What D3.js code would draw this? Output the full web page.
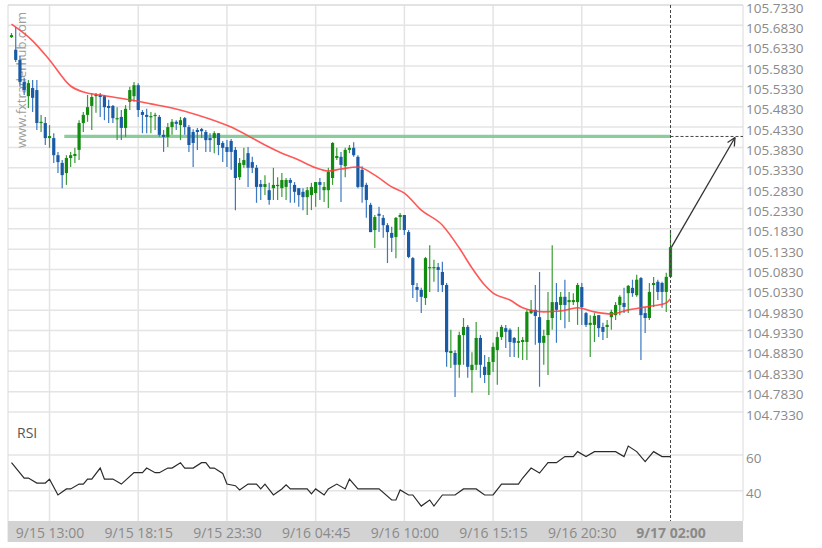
<!DOCTYPE html>
<html><head><meta charset="utf-8">
<script src="https://cdn.jsdelivr.net/npm/d3@7"></script>
<style>body{margin:0;background:#fff}svg{display:block}</style>
</head><body>
<svg id="c" width="822" height="548"></svg>
<script>
const opens=[105.654,105.623,105.598,105.544,105.509,105.529,105.524,105.443,105.443,105.406,105.406,105.364,105.345,105.320,105.357,105.362,105.377,105.443,105.463,105.485,105.509,105.512,105.509,105.485,105.485,105.453,105.458,105.431,105.495,105.509,105.536,105.470,105.463,105.458,105.460,105.458,105.414,105.409,105.433,105.446,105.438,105.455,105.433,105.421,105.426,105.428,105.421,105.406,105.406,105.418,105.394,105.384,105.399,105.377,105.310,105.340,105.369,105.347,105.333,105.293,105.286,105.278,105.283,105.288,105.283,105.286,105.303,105.291,105.283,105.274,105.261,105.266,105.271,105.298,105.278,105.278,105.308,105.357,105.360,105.337,105.377,105.382,105.360,105.328,105.291,105.242,105.180,105.220,105.210,105.192,105.173,105.163,105.212,105.217,105.175,105.111,105.040,105.033,105.013,105.087,105.087,105.089,105.077,105.045,104.878,104.878,104.849,104.922,104.942,104.836,104.849,104.915,104.844,104.824,104.856,104.885,104.917,104.939,104.935,104.915,104.903,104.905,104.905,104.976,104.984,104.966,104.903,104.922,104.964,105.003,104.996,105.016,105.003,105.003,105.003,105.040,104.976,104.947,104.947,104.971,104.942,104.942,104.966,104.971,104.996,105.001,105.025,105.038,105.020,105.062,104.976,104.964,105.045,105.053,105.050,105.028,105.065];
const highs=[105.664,105.679,105.608,105.554,105.549,105.549,105.549,105.463,105.458,105.438,105.418,105.372,105.352,105.364,105.372,105.382,105.450,105.470,105.512,105.517,105.517,105.517,105.512,105.500,105.487,105.482,105.475,105.487,105.532,105.544,105.541,105.475,105.478,105.470,105.468,105.463,105.426,105.443,105.453,105.450,105.458,105.458,105.438,105.428,105.431,105.431,105.426,105.418,105.423,105.418,105.399,105.401,105.404,105.384,105.357,105.382,105.384,105.360,105.340,105.303,105.315,105.296,105.333,105.310,105.320,105.308,105.308,105.298,105.283,105.283,105.286,105.296,105.298,105.308,105.298,105.333,105.396,105.382,105.372,105.382,105.389,105.396,105.364,105.337,105.296,105.247,105.217,105.237,105.217,105.197,105.188,105.212,105.222,105.217,105.180,105.114,105.050,105.038,105.114,105.143,105.107,105.099,105.102,105.050,104.935,104.885,104.930,104.964,104.947,104.880,104.954,104.922,104.873,104.868,104.903,104.930,104.947,104.947,104.939,104.917,104.942,104.917,104.984,105.008,105.045,105.077,104.935,105.028,105.143,105.050,105.028,105.058,105.028,105.025,105.050,105.050,104.979,104.971,104.976,104.971,104.952,104.959,104.984,105.003,105.020,105.038,105.045,105.058,105.070,105.065,104.989,105.050,105.065,105.058,105.053,105.075,105.180];
const lows=[105.652,105.593,105.532,105.512,105.480,105.470,105.426,105.421,105.389,105.382,105.345,105.320,105.283,105.291,105.335,105.345,105.352,105.421,105.446,105.426,105.468,105.458,105.450,105.443,105.443,105.401,105.401,105.409,105.475,105.495,105.458,105.418,105.418,105.418,105.426,105.409,105.372,105.384,105.414,105.426,105.401,105.414,105.372,105.335,105.377,105.406,105.372,105.372,105.369,105.364,105.347,105.335,105.328,105.229,105.303,105.333,105.286,105.320,105.247,105.254,105.266,105.242,105.254,105.254,105.261,105.254,105.247,105.247,105.237,105.229,105.217,105.229,105.237,105.254,105.249,105.234,105.291,105.352,105.249,105.310,105.369,105.360,105.283,105.247,105.210,105.175,105.136,105.175,105.161,105.099,105.126,105.111,105.180,105.168,105.111,105.013,105.003,104.976,104.996,105.028,105.053,105.028,105.028,104.844,104.841,104.770,104.817,104.849,104.817,104.780,104.836,104.817,104.804,104.775,104.831,104.800,104.910,104.890,104.868,104.868,104.866,104.861,104.861,104.974,104.898,104.795,104.849,104.824,104.935,104.903,104.959,104.939,104.954,104.996,104.947,104.947,104.942,104.868,104.905,104.917,104.910,104.915,104.935,104.959,104.971,104.976,104.976,105.016,105.016,104.861,104.927,104.959,104.991,105.008,104.989,104.979,105.062];
const closes=[105.659,105.598,105.544,105.524,105.541,105.505,105.443,105.446,105.406,105.411,105.364,105.347,105.315,105.357,105.364,105.367,105.443,105.463,105.482,105.507,105.512,105.507,105.482,105.480,105.455,105.455,105.431,105.478,105.524,105.536,105.475,105.463,105.458,105.460,105.463,105.414,105.409,105.433,105.446,105.441,105.450,105.433,105.389,105.394,105.421,105.423,105.401,105.401,105.418,105.389,105.382,105.372,105.372,105.308,105.345,105.352,105.333,105.333,105.286,105.286,105.293,105.254,105.291,105.291,105.303,105.303,105.296,105.274,105.266,105.261,105.278,105.286,105.298,105.291,105.286,105.323,105.394,105.362,105.340,105.377,105.382,105.364,105.286,105.286,105.254,105.175,105.212,105.215,105.192,105.175,105.161,105.210,105.217,105.180,105.114,105.045,105.033,105.016,105.111,105.089,105.089,105.082,105.045,104.880,104.883,104.849,104.922,104.942,104.844,104.849,104.915,104.849,104.824,104.856,104.893,104.917,104.942,104.930,104.905,104.903,104.907,104.910,104.979,104.984,104.969,104.903,104.920,104.959,105.003,104.984,105.016,104.996,105.008,105.008,105.045,104.991,104.947,104.952,104.969,104.939,104.930,104.947,104.979,104.996,105.016,104.991,105.043,105.025,105.058,104.971,104.964,105.028,105.050,105.028,105.028,105.065,105.138];

const maIdx=[0,5,9,14,17,21,28,33,38,44,52,57,60,64,68,72,75,78,82,86,90,93,97,102,106,109,112,114,118,121,126,130,134,138,142,146,149,152,155,156];
const maVal=[105.686,105.645,105.598,105.534,105.519,105.512,105.500,105.490,105.480,105.463,105.433,105.406,105.389,105.369,105.352,105.333,105.325,105.330,105.335,105.315,105.286,105.271,105.229,105.192,105.136,105.087,105.045,105.025,105.008,104.989,104.979,104.981,104.989,104.979,104.974,104.984,104.989,104.994,105.001,105.011];

const rsiIdx=[0,3,4,6,8,9,11,13,14,16,17,18,19,21,22,24,26,29,31,32,34,35,37,38,40,41,43,45,46,47,48,50,51,53,54,56,58,59,60,62,64,65,66,70,71,72,74,75,77,79,80,82,87,90,91,92,94,95,97,99,100,102,105,107,110,112,114,116,120,121,123,125,127,129,131,133,134,136,138,143,145,146,148,150,152,154,156];
const rsiVal=[55.7,47.1,47.1,44.3,44.3,46.5,37.6,41,41,43.7,43.7,46.5,46.5,52.7,46.5,46.5,43.7,50.1,50.1,52.7,50.1,50.1,52.7,52.7,55.7,52.7,52.7,55.7,55.7,52.7,52.7,49.7,43.7,42.8,40.4,43.7,43.7,41,43.7,37.6,41,43.3,41,41,38.2,41,37.6,41,43.7,41,46.5,41,41,34.8,34.8,40.4,37.6,37.6,31.4,34.8,31.4,37.6,37.6,41,41,37.6,37.6,43.7,43.7,47.1,52.7,49.9,55.7,55.7,59.1,59.1,61.9,59.1,61.9,61.9,59.1,65,61.9,56.3,61.9,59.1,59.1];

const timeTickIdx=[9,30,51,72,93,114,135,156];
const timeTickLabels=["9/15 13:00","9/15 18:15","9/15 23:30","9/16 04:45","9/16 10:00","9/16 15:15","9/16 20:30","9/17 02:00"];
const priceTicks=d3.range(0,21).map(k=>+(104.733+k*0.05).toFixed(3));
const rsiTicks=[40,60];
const levelPrice=105.41;
const levelStartIdx=12.5;

const svg=d3.select('#c');
const L=8,R=743,T=5,PB=412,RB=521,AB=542;
const x=d3.scaleLinear().domain([0,156]).range([11.5,670.5]);
const y=d3.scaleLinear().domain([104.733,105.733]).range([PB,T]);
const ry=d3.scaleLinear().domain([40,60]).range([490.7,455]);
const last=opens.length-1;

// grid
const g=svg.append('g');
g.selectAll('.hg').data(priceTicks).join('line')
 .attr('x1',L).attr('x2',R).attr('y1',d=>y(d)).attr('y2',d=>y(d))
 .attr('stroke','#e4e4e4').attr('stroke-width',1.5);
g.selectAll('.rg').data(rsiTicks).join('line')
 .attr('x1',L).attr('x2',R).attr('y1',d=>ry(d)).attr('y2',d=>ry(d))
 .attr('stroke','#e4e4e4').attr('stroke-width',1.5);
g.selectAll('.vg').data(timeTickIdx.slice(0,-1)).join('line')
 .attr('x1',d=>x(d)).attr('x2',d=>x(d)).attr('y1',T).attr('y2',RB)
 .attr('stroke','#e4e4e4').attr('stroke-width',1.5);
// frame
svg.append('path').attr('d',`M${L},${AB}V${T}H${R}V${RB}`).attr('fill','none').attr('stroke','#dadada').attr('stroke-width',1);

// axis band
svg.append('rect').attr('x',L).attr('y',RB).attr('width',R-L).attr('height',AB-RB).attr('fill','#d3d3d3');
const xAxis=d3.axisBottom(x).tickValues(timeTickIdx).tickFormat((d,i)=>timeTickLabels[i]).tickSize(0);
const xa=svg.append('g').attr('transform',`translate(0,${RB+1})`).call(xAxis);
xa.select('.domain').remove();
xa.selectAll('text').attr('font-family','Open Sans').attr('font-size',14).attr('fill','#8a8a8a').attr('dy','0.95em')
 .attr('font-weight',(d,i)=>i===timeTickIdx.length-1?'bold':'normal');

// right axis
const yAxis=d3.axisRight(y).tickValues(priceTicks).tickFormat(d3.format('.4f')).tickSize(0).tickPadding(3);
const ya=svg.append('g').attr('transform',`translate(${R},0)`).call(yAxis);
ya.select('.domain').remove();
ya.selectAll('text').attr('font-family','Open Sans').attr('font-size',13.5).attr('fill','#8a8a8a').attr('dy','0.52em');
const rAxis=d3.axisRight(ry).tickValues(rsiTicks).tickFormat(d3.format('d')).tickSize(0).tickPadding(3);
const ra=svg.append('g').attr('transform',`translate(${R},0)`).call(rAxis);
ra.select('.domain').remove();
ra.selectAll('text').attr('font-family','Open Sans').attr('font-size',13.5).attr('fill','#8a8a8a').attr('dy','0.52em');

// watermark
svg.append('text').attr('transform','translate(26,148) rotate(-90)')
 .attr('font-family','Open Sans').attr('font-size',13).attr('fill','#8c8c8c').attr('opacity',0.85)
 .text('www.fxtraderhub.com');

// level line
svg.append('line').attr('x1',x(levelStartIdx)).attr('x2',x(last)).attr('y1',y(levelPrice)).attr('y2',y(levelPrice))
 .attr('stroke','#7fc792').attr('stroke-width',3.2).attr('opacity',0.9);
svg.append('line').attr('x1',x(last)).attr('x2',R).attr('y1',y(levelPrice)).attr('y2',y(levelPrice))
 .attr('stroke','#444').attr('stroke-dasharray','3,2').attr('stroke-width',1);

// candles
const idx=d3.range(opens.length);
const up=i=>closes[i]>=opens[i];
const cg=svg.append('g');
cg.selectAll('.w').data(idx).join('line')
 .attr('x1',i=>x(i)).attr('x2',i=>x(i))
 .attr('y1',i=>y(Math.max(highs[i],opens[i],closes[i]))).attr('y2',i=>y(Math.min(lows[i],opens[i],closes[i])))
 .attr('stroke',i=>up(i)?'#3a9c35':'#3b78c2').attr('stroke-width',1.2);
cg.selectAll('.b').data(idx).join('rect')
 .attr('x',i=>x(i)-1.6).attr('width',3.2)
 .attr('y',i=>y(Math.max(opens[i],closes[i])))
 .attr('height',i=>Math.max(1.2,y(Math.min(opens[i],closes[i]))-y(Math.max(opens[i],closes[i]))))
 .attr('fill',i=>up(i)?'#138a10':'#1a5ba6');

// MA
const ma=d3.line().x((d,k)=>x(maIdx[k])).y(d=>y(d)).curve(d3.curveMonotoneX);
svg.append('path').attr('d',ma(maVal)).attr('fill','none').attr('stroke','#ff3b3b').attr('stroke-width',1.6).attr('opacity',0.85);

// RSI
svg.append('text').attr('x',17).attr('y',438).attr('font-family','Open Sans').attr('font-size',14).attr('fill','#555').text('RSI');
const rl=d3.line().x((d,k)=>x(rsiIdx[k])).y(d=>ry(d));
svg.append('path').attr('d',rl(rsiVal)).attr('fill','none').attr('stroke','#2b2b2b').attr('stroke-width',1.2);

// vertical dashed at last candle
svg.append('line').attr('x1',x(last)).attr('x2',x(last)).attr('y1',T).attr('y2',RB)
 .attr('stroke','#444').attr('stroke-dasharray','3,2').attr('stroke-width',1);

// arrow
const ax0=x(last)+1, ay0=y(closes[last]), ax1=R-8, ay1=y(levelPrice)+1;
svg.append('line').attr('x1',ax0).attr('y1',ay0).attr('x2',ax1).attr('y2',ay1).attr('stroke','#333').attr('stroke-width',1.3);
const ang=Math.atan2(ay1-ay0,ax1-ax0), hl=9;
[0.45,-0.45].forEach(a=>{
  svg.append('line').attr('x1',ax1).attr('y1',ay1)
   .attr('x2',ax1-hl*Math.cos(ang+a)).attr('y2',ay1-hl*Math.sin(ang+a))
   .attr('stroke','#333').attr('stroke-width',1.3);
});
</script>
</body></html>
